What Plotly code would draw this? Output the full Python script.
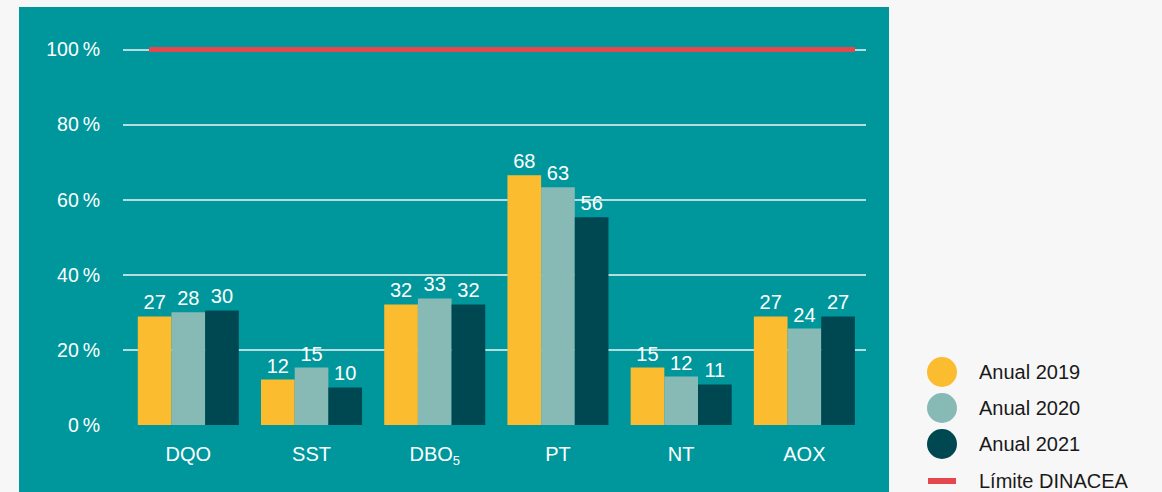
import plotly.graph_objects as go

categories = ["DQO", "SST", "DBO<sub><span style='font-size:13px'>5</span></sub>", "PT", "NT", "AOX"]
series_names = ["Anual 2019", "Anual 2020", "Anual 2021"]
values_2019 = [28.9, 12.1, 32.1, 66.5, 15.3, 28.9]
values_2020 = [30.0, 15.3, 33.7, 63.3, 12.9, 25.7]
values_2021 = [30.5, 10.0, 32.1, 55.3, 10.8, 28.9]
labels_2019 = ["27", "12", "32", "68", "15", "27"]
labels_2020 = ["28", "15", "33", "63", "12", "24"]
labels_2021 = ["30", "10", "32", "56", "11", "27"]
limit_name = "Límite DINACEA"
limit_value = 100
y_ticks = [0, 20, 40, 60, 80, 100]
y_tick_labels = ["0\u2009%", "20\u2009%", "40\u2009%", "60\u2009%", "80\u2009%", "100\u2009%"]

colors = ["#fbbc2f", "#87b9b5", "#004851"]
teal = "#00979c"
red = "#e5474f"
grid = "#b3dedf"
FONT = "Liberation Sans, Arial, sans-serif"

W, H = 1162, 492
ML, MR, MT, MB = 123, 296, 12, 67

fig = go.Figure()
x_idx = list(range(len(categories)))
for name, vals, labs, col in zip(series_names,
                                 [values_2019, values_2020, values_2021],
                                 [labels_2019, labels_2020, labels_2021],
                                 colors):
    fig.add_bar(x=x_idx, y=vals, name=name, marker=dict(color=col, line=dict(width=0)),
                text=labs, textposition="outside", cliponaxis=False,
                textfont=dict(color="white", size=20, family=FONT),
                showlegend=False)

fig.update_layout(
    width=W, height=H,
    margin=dict(l=ML, r=MR, t=MT, b=MB, pad=0),
    paper_bgcolor="#f7f7f7",
    plot_bgcolor="rgba(0,0,0,0)",
    barmode="group", bargap=0.18, bargroupgap=0,
    showlegend=False,
    font=dict(family=FONT, size=20, color="white"),
    xaxis=dict(range=[-0.53, 5.5], tickvals=x_idx, ticktext=categories,
               showgrid=False, zeroline=False, showline=False, ticks="",
               ticklabelstandoff=15, tickfont=dict(size=20, color="white")),
    yaxis=dict(range=[0, 110], tickvals=y_ticks, ticktext=y_tick_labels,
               showgrid=True, gridcolor=grid, gridwidth=1.5, zeroline=False,
               showline=False, ticks="", ticklabelstandoff=22,
               tickfont=dict(size=19.5, color="white")),
)

plot_w = W - ML - MR
plot_h = H - MT - MB
def px_to_paper_x(px):
    return (px - ML) / plot_w
def px_to_paper_y(py):
    return (H - MB - py) / plot_h

# teal panel background
fig.add_shape(type="rect", xref="paper", yref="paper",
              x0=px_to_paper_x(19), x1=px_to_paper_x(889),
              y0=px_to_paper_y(500), y1=px_to_paper_y(7),
              fillcolor=teal, line=dict(width=0), layer="below")

# limit line
fig.add_shape(type="line", xref="paper", yref="y",
              x0=px_to_paper_x(149), x1=px_to_paper_x(855),
              y0=limit_value, y1=limit_value,
              line=dict(color=red, width=5), layer="above")

# manual legend
leg_y = [372, 408, 444]
for name, col, yy in zip(series_names, colors, leg_y):
    fig.add_shape(type="circle", xref="paper", yref="paper",
                  x0=px_to_paper_x(927), x1=px_to_paper_x(957),
                  y0=px_to_paper_y(yy + 15), y1=px_to_paper_y(yy - 15),
                  fillcolor=col, line=dict(width=0))
    fig.add_annotation(xref="paper", yref="paper", x=px_to_paper_x(977), y=px_to_paper_y(yy),
                       text=name, showarrow=False, xanchor="left", yanchor="middle",
                       font=dict(size=20, color="#1a1a1a", family=FONT))
fig.add_shape(type="line", xref="paper", yref="paper",
              x0=px_to_paper_x(928), x1=px_to_paper_x(956),
              y0=px_to_paper_y(481), y1=px_to_paper_y(481),
              line=dict(color=red, width=6))
fig.add_annotation(xref="paper", yref="paper", x=px_to_paper_x(977), y=px_to_paper_y(481),
                   text=limit_name, showarrow=False, xanchor="left", yanchor="middle",
                   font=dict(size=20, color="#1a1a1a", family=FONT))

fig.write_html("out.html", config={"displayModeBar": False},
               post_script="document.body.style.margin='0';document.body.style.overflow='hidden';")
